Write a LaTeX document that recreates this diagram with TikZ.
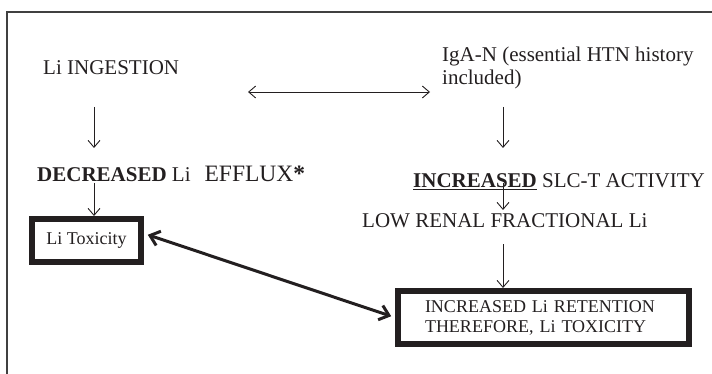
\documentclass[tikz,border=0pt]{standalone}
\usepackage{fontspec}
\setmainfont{Liberation Serif}
\usetikzlibrary{arrows.meta}
\definecolor{ink}{HTML}{231F20}
\begin{document}
\begin{tikzpicture}[x=1pt,y=-1pt,
  txt/.style={inner sep=0pt,anchor=base west,text=ink,font=\fontsize{21}{23}\selectfont},
  boxed/.style={draw=ink,line width=6pt,text=ink,font=\fontsize{18}{20}\selectfont},
  thin/.style={draw=ink,line width=0.9pt,-{Straight Barb[length=7pt,width=12pt]}},
  thick/.style={draw=ink,line width=3pt,{Straight Barb[length=9pt,width=15pt]}-{Straight Barb[length=9pt,width=15pt]}}]
\useasboundingbox (0,0) rectangle (712,374);
% outer frame (partly visible)
\draw[black!75,line width=1.6pt] (7,374) -- (7,12) -- (712,12);
% texts
\node[txt] (ing) at (43,75) {Li INGESTION};
\node[txt,align=left] (iga) at (442,85) {IgA-N (essential HTN history\\included)};
\node[txt] (dec) at (37,182) {\textbf{DECREASED} Li\hspace{14pt}{\fontsize{23.5}{25}\selectfont EFFLUX\textbf{*}}};
\node[txt] (inc) at (413,188) {\underline{\textbf{INCREASED}} SLC-T ACTIVITY};
\node[txt] (low) at (362,227) {LOW RENAL FRACTIONAL Li};
\node[boxed,minimum width=109pt,minimum height=43pt,inner sep=0pt] (tox) at (86.5,240.5) {Li Toxicity};
\node[boxed,inner xsep=27pt,inner ysep=0pt,text width=237pt,minimum height=53pt,align=left] (ret) at (543.5,317.5) {INCREASED Li RETENTION\\THEREFORE, Li TOXICITY};
% connector end points
\coordinate (h1) at (248,92);
\coordinate (h2) at (430,92);
\coordinate (a1s) at (94,107);
\coordinate (a1e) at (94,148);
\coordinate (a2s) at (94,183);
\coordinate (a3s) at (503,107);
\coordinate (a3e) at (503,148);
\coordinate (a4s) at (503,183);
\coordinate (a4e) at (503,210);
\coordinate (a5s) at (503,244);
% connectors
\draw[thin,{Straight Barb[length=7pt,width=12pt]}-{Straight Barb[length=7pt,width=12pt]}] (h1) -- (h2);
\draw[thin] (a1s) -- (a1e);
\draw[thin] (a2s) -- (a2s |- tox.north);
\draw[thin] (a3s) -- (a3e);
\draw[thin] (a4s) -- (a4e);
\draw[thin] (a5s) -- (a5s |- ret.north);
\draw[thick,shorten <=4pt,shorten >=4pt] (tox.east) ++(0,-7) coordinate (t1) -- (ret.west) coordinate (r1);
\end{tikzpicture}
\end{document}
